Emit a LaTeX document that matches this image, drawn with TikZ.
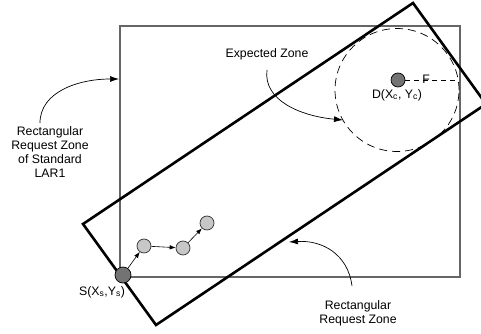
\documentclass[tikz,border=0pt]{standalone}
\usepackage{fontspec}
\setmainfont{Liberation Sans}
\usetikzlibrary{arrows.meta}
\begin{document}
\begin{tikzpicture}[x=1pt,y=-1pt,
  lbl/.style={font=\fontsize{12.3}{14.3}\selectfont,align=center,inner sep=0pt},
  darknode/.style={circle,draw=black,line width=0.7pt,fill=black!55,minimum size=14pt,inner sep=0pt},
  lightnode/.style={circle,draw=black!80,line width=0.7pt,fill=black!22,minimum size=14pt,inner sep=0pt},
  hop/.style={-{Latex[length=6pt,width=4.5pt]},line width=0.6pt},
  callout/.style={-{Latex[length=9pt,width=6pt]},line width=0.7pt}]
\useasboundingbox (0,0) rectangle (481,334);
\begin{scope}
\clip (0,0) rectangle (481,334);
% standard LAR1 request zone
\draw[black!60,line width=1.3pt] (120,26) rectangle (460,277);
% expected zone
\draw[dash pattern=on 8pt off 5pt,line width=0.7pt] (397,90) ellipse [x radius=62pt,y radius=61.5pt];
% rotated rectangular request zone
\draw[line width=2.6pt,line join=miter] (83,224) -- (413,3) -- (486,104) -- (156,325) -- cycle;
\end{scope}
% destination
\node[darknode] (D) at (398,80) {};
\coordinate (Redge) at (459,80);
\draw[dash pattern=on 5pt off 4pt,line width=0.8pt] (D) -- (Redge);
\node[lbl] (r) at (426,79) {F};
\node[lbl,anchor=north] (Dl) at (397,89) {D(X\textsubscript{c}, Y\textsubscript{c})};
% source and hops
\node[darknode,minimum size=16pt] (S) at (123,275) {};
\node[lightnode] (n1) at (144,246) {};
\node[lightnode] (n2) at (183,248) {};
\node[lightnode] (n3) at (207,223) {};
\draw[hop] (S) -- (n1);
\draw[hop] (n1) -- (n2);
\draw[hop] (n2) -- (n3);
\node[lbl] (Sl) at (102,292) {S(X\textsubscript{s},Y\textsubscript{s})};
% labels
\node[lbl] (ez) at (267,54) {Expected Zone};
\coordinate (ezs) at (267,70);
\coordinate (ezt) at (343,120);
\draw[callout] (ezs) .. controls (263,100) and (300,116) .. (ezt);
\node[lbl] (lar) at (50,152) {Rectangular\\Request Zone\\of Standard\\LAR1};
\coordinate (lars) at (40,123);
\coordinate (lart) at (119,79);
\draw[callout] (lars) .. controls (40,92) and (78,79) .. (lart);
\node[lbl] (rrz) at (358,313) {Rectangular\\Request Zone};
\coordinate (rrzs) at (352,286);
\coordinate (rrzt) at (289,242);
\draw[callout] (rrzs) .. controls (348,254) and (322,240) .. (rrzt);
\end{tikzpicture}
\end{document}
